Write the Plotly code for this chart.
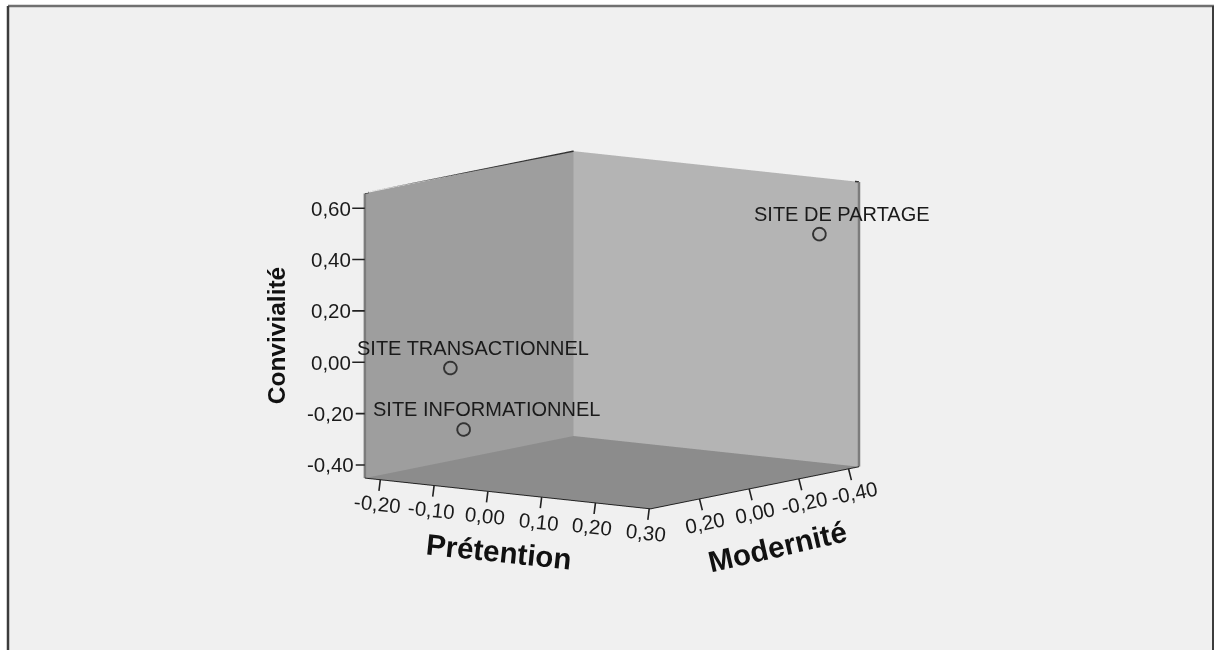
import plotly.graph_objects as go

sites = ["SITE DE PARTAGE", "SITE TRANSACTIONNEL", "SITE INFORMATIONNEL"]
pretention = [0.27, -0.093, -0.073]
modernite = [-0.35, 0.35, 0.34]
convivialite = [0.467, 0.0, -0.237]

x_ticks = [-0.2, -0.1, 0.0, 0.1, 0.2, 0.3]
x_labels = ["-0,20", "-0,10", "0,00", "0,10", "0,20", "0,30"]
y_ticks = [0.2, 0.0, -0.2, -0.4]
y_labels = ["0,20", "0,00", "-0,20", "-0,40"]
z_ticks = [-0.4, -0.2, 0.0, 0.2, 0.4, 0.6]
z_labels = ["-0,40", "-0,20", "0,00", "0,20", "0,40", "0,60"]

x_range = [-0.229, 0.302]
y_range = [0.398, -0.442]
z_range = [-0.451, 0.659]

FONT = "Liberation Sans"
TXT = "#1a1a1a"

def axis(vals, rng, wall, line=True):
    return dict(
        title=dict(text=""),
        tickvals=vals, range=rng, showticklabels=False, ticks="",
        showgrid=False, zeroline=False, showspikes=False,
        showbackground=True, backgroundcolor=wall,
        showline=line, linecolor="#222222", linewidth=2,
    )

def title(text, x, y, z, size, angle, xs, ys):
    return dict(x=x, y=y, z=z, text=f"<b>{text}</b>", showarrow=False, textangle=angle,
                xshift=xs, yshift=ys, font=dict(family=FONT, size=size, color="#111111"))

def tick(text, x, y, z, ax, ay, angle):
    return dict(x=x, y=y, z=z, text=text, showarrow=True, arrowhead=0, arrowwidth=1.6,
                arrowcolor="#222222", ax=ax, ay=ay, textangle=angle, standoff=0,
                font=dict(family=FONT, size=20.5, color=TXT))

x0, x1 = x_range
y0, y1 = y_range
z0, z1 = z_range

annots = [
    title("Prétention", 0.02, y0, z0, 29.5, 6, 0, -59),
    title("Modernité", x1, -0.02, z0, 29.5, -13, 23, -59),
    title("Convivialité", x0, y0, 0.104, 24.5, -90, -88, 0),
]
annots += [tick(l, t, y0, z0, -3, 24, 6) for t, l in zip(x_ticks, x_labels)]
annots += [tick(l, x1, t, z0, 6, 24, -12) for t, l in zip(y_ticks, y_labels)]
annots += [tick(l, x0, y0, t, -34, 0, 0) for t, l in zip(z_ticks, z_labels)]
annots += [dict(x=a, y=b, z=c, text=s, showarrow=False, xshift=23.5, yshift=20,
                font=dict(family=FONT, size=20, color=TXT))
           for a, b, c, s in zip(pretention, modernite, convivialite, sites)]

fig = go.Figure()
# top edges and vertical side edges of the box
fig.add_trace(go.Scatter3d(
    x=[x0, x0, x1], y=[y0, y1, y1], z=[z1, z1, z1], mode="lines",
    line=dict(color="#333333", width=3), hoverinfo="skip"))
fig.add_trace(go.Scatter3d(
    x=[x0, x0], y=[y0, y0], z=[z0, z1], mode="lines",
    line=dict(color="#7c7c7c", width=5), hoverinfo="skip"))
fig.add_trace(go.Scatter3d(
    x=[x1, x1], y=[y1, y1], z=[z0, z1], mode="lines",
    line=dict(color="#7c7c7c", width=5), hoverinfo="skip"))
fig.add_trace(go.Scatter3d(
    x=pretention, y=modernite, z=convivialite,
    mode="markers", text=sites,
    marker=dict(symbol="circle-open", size=8, color="#333333", line=dict(color="#333333", width=2)),
    hoverinfo="text",
))

fig.update_layout(
    width=1214, height=650, autosize=False,
    margin=dict(l=0, r=0, t=0, b=0),
    paper_bgcolor="#ffffff", showlegend=False,
    shapes=[
        dict(type="rect", xref="paper", yref="paper", x0=8 / 1214, x1=1213 / 1214, y0=-0.2, y1=644 / 650,
             fillcolor="#f0f0f0", line=dict(width=0), layer="below"),
        dict(type="line", xref="paper", yref="paper", x0=8 / 1214, x1=1, y0=644 / 650, y1=644 / 650,
             line=dict(color="#707070", width=2.5), layer="below"),
        dict(type="line", xref="paper", yref="paper", x0=8 / 1214, x1=8 / 1214, y0=0, y1=644 / 650,
             line=dict(color="#3c3c3c", width=2.5), layer="below"),
        dict(type="line", xref="paper", yref="paper", x0=1213 / 1214, x1=1213 / 1214, y0=0, y1=644 / 650,
             line=dict(color="#3c3c3c", width=2), layer="below"),
    ],
    scene=dict(
        domain=dict(x=[0.008, 1], y=[0, 0.985]),
        bgcolor="rgba(0,0,0,0)",
        xaxis=axis(x_ticks, x_range, "#9e9e9e"),
        yaxis=axis(y_ticks, y_range, "#b4b4b4"),
        zaxis=axis(z_ticks, z_range, "#8c8c8c", line=False),
        aspectmode="manual", aspectratio=dict(x=1.105, y=1.105, z=0.9),
        camera=dict(projection=dict(type="orthographic"),
                    eye=dict(x=0.95, y=-1.3, z=0.24), up=dict(x=0, y=0, z=1),
                    center=dict(x=0, y=0, z=0)),
        annotations=annots,
    ),
)
fig.write_html("out.html", post_script="document.body.style.margin='0';",
               config=dict(displayModeBar=False))
